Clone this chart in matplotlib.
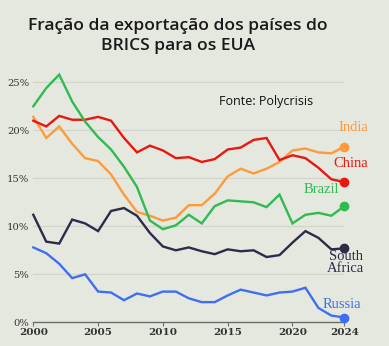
import matplotlib
matplotlib.use("Agg")
import matplotlib.pyplot as plt

years = list(range(2000, 2025))
brazil = [22.5, 24.4, 25.8, 23.0, 20.9, 19.3, 18.0, 16.2, 14.1, 10.6, 9.7, 10.1, 11.2, 10.3, 12.1,
          12.7, 12.6, 12.5, 12.0, 13.3, 10.3, 11.2, 11.4, 11.1, 12.1]
china = [21.0, 20.4, 21.5, 21.1, 21.1, 21.4, 21.0, 19.2, 17.7, 18.4, 17.9, 17.1, 17.2, 16.7, 17.0,
         18.0, 18.2, 19.0, 19.2, 16.9, 17.4, 17.1, 16.1, 14.9, 14.6]
india = [21.4, 19.2, 20.4, 18.6, 17.1, 16.8, 15.4, 13.3, 11.5, 11.1, 10.6, 10.9, 12.2, 12.2, 13.4,
         15.2, 16.0, 15.5, 16.0, 16.7, 17.9, 18.1, 17.7, 17.6, 18.3]
south_africa = [11.2, 8.4, 8.2, 10.7, 10.3, 9.5, 11.6, 11.9, 11.1, 9.3, 7.9, 7.5, 7.8, 7.4, 7.1,
                7.6, 7.4, 7.5, 6.8, 7.0, 8.3, 9.5, 8.8, 7.6, 7.7]
russia = [7.8, 7.2, 6.1, 4.6, 5.0, 3.2, 3.1, 2.3, 3.0, 2.7, 3.2, 3.2, 2.5, 2.1, 2.1,
          2.8, 3.4, 3.1, 2.8, 3.1, 3.2, 3.6, 1.5, 0.7, 0.5]

names = ["India", "China", "Brazil", "South\nAfrica", "Russia"]
series = [india, china, brazil, south_africa, russia]
colors = ["#fd9b3b", "#e8170f", "#2fba52", "#2a2c48", "#3f6ff0"]
label_pos = [(2024.7, 18.3 + 1.95), (2024.5, 14.6 + 1.95), (2022.2, 12.1 + 1.75),
             (2024.1, 6.2), (2023.8, 1.9)]

yticks = [0, 5, 10, 15, 20, 25]
ytick_labels = ["0%", "5%", "10%", "15%", "20%", "25%"]
xticks = [2000, 2005, 2010, 2015, 2020, 2024]

bg = "#e5e8df"
fig = plt.figure(figsize=(3.89, 3.46), dpi=100, facecolor=bg)
ax = fig.add_axes([33.3 / 389, 1 - 322.3 / 346, 311 / 389, 249.6 / 346])
ax.set_facecolor(bg)
ax.set_xlim(2000, 2024)
ax.set_ylim(0, 26)

for y in yticks[1:]:
    ax.axhline(y, color="#d2d5cc", lw=0.9, zorder=1)

for vals, c in zip(series, colors):
    ax.plot(years, vals, color=c, lw=1.7, zorder=3, clip_on=False, solid_joinstyle="miter")
    ax.plot([years[-1]], [vals[-1]], "o", color=c, ms=6, zorder=4, clip_on=False)

for name, (lx, ly), c in zip(names, label_pos, colors):
    ax.text(lx, ly, name, color=c, fontsize=10.5, family="Liberation Serif", ha="center",
            va="center", linespacing=0.9, clip_on=False)

for s in ["top", "right", "left"]:
    ax.spines[s].set_visible(False)
ax.spines["bottom"].set_color("#6b6d68")
ax.spines["bottom"].set_linewidth(1.0)

ax.set_yticks(yticks)
ax.set_yticklabels(ytick_labels, family="DejaVu Serif", fontsize=7.2, color="#333333")
ax.tick_params(axis="y", length=0, pad=3)
ax.set_xticks(xticks)
ax.set_xticklabels([str(x) for x in xticks], family="DejaVu Serif", fontsize=7.5,
                   color="#333333", fontweight="bold")
ax.tick_params(axis="x", length=3, color="#6b6d68", pad=1)

fig.text(178 / 389, 1 - 36 / 346, "Fração da exportação dos países do\nBRICS para os EUA",
         ha="center", va="center", fontsize=12.6, family="Open Sans", fontweight="semibold",
         color="#1a1a1a", linespacing=1.4)
fig.text(266 / 389, 1 - 101 / 346, "Fonte: Polycrisis", ha="center", va="center",
         fontsize=9, family="Open Sans", fontweight="medium", color="#111111")

fig.savefig("out.png", dpi=100, facecolor=bg)
